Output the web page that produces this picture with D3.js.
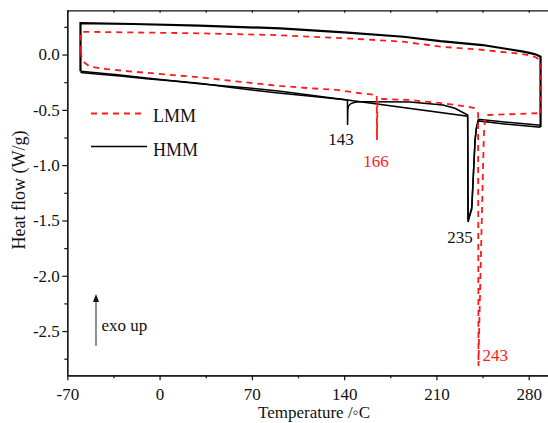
<!DOCTYPE html>
<html>
<head>
<meta charset="utf-8">
<script src="https://cdn.jsdelivr.net/npm/d3@7"></script>
<style>
  body { margin: 0; background: #fff; }
  svg, svg text { font-family: "Liberation Serif", "Times New Roman", "DejaVu Serif", serif !important; }
  svg { display: block; }
</style>
</head>
<body>
<svg id="chart" width="548" height="423"></svg>
<script>
// DSC curves, [temperature °C, heat flow W/g]
const hmmCooling = [
  [289, -0.655], [289, -0.02], [286, -0.002], [283, 0.008], [276, 0.026], [265, 0.048],
  [245, 0.086], [213, 0.122], [185, 0.161], [140, 0.2], [91.5, 0.237], [30, 0.261],
  [-20, 0.276], [-50, 0.282], [-60, 0.284], [-60, -0.15]
];
const hmmHeating1 = [
  [-60, -0.15], [-50, -0.163], [-30, -0.186], [-10, -0.211], [10, -0.236], [30, -0.26],
  [50, -0.292], [70, -0.32], [90, -0.347], [115, -0.377], [142.5, -0.41],
  [142.6, -0.637], [142.8, -0.5], [143.3, -0.466], [145.2, -0.443], [148.2, -0.432],
  [152, -0.426], [165, -0.426], [190, -0.428], [215, -0.456], [224, -0.486], [233.7, -0.547],
  [234.0, -1.515], [235.0, -1.47], [236.8, -1.40], [238.2, -1.05], [239.3, -0.773],
  [240.3, -0.66], [241.8, -0.586], [260, -0.607], [289, -0.64]
];
const hmmHeating2 = [
  [-60, -0.163], [-50, -0.173], [-30, -0.195], [-10, -0.218], [10, -0.24], [30, -0.263],
  [50, -0.284], [70, -0.305], [90, -0.33], [115, -0.367], [142.5, -0.412], [233.7, -0.558],
  [234.0, -1.5], [235.0, -1.46], [236.8, -1.38], [238.2, -1.04], [239.3, -0.78],
  [240.3, -0.67], [241.8, -0.6], [260, -0.625], [289, -0.658]
];
const lmmCooling = [
  [288.5, -0.53], [288.5, -0.049], [285, -0.022], [280, -0.005], [271, 0.011], [258, 0.026],
  [240, 0.048], [213, 0.071], [185, 0.116], [140, 0.148], [84, 0.177], [30.7, 0.192],
  [-20, 0.2], [-59.6, 0.206], [-59.6, 0.026]
];
const lmmHeating = [
  [-59.6, 0.026], [-59.2, -0.03], [-58, -0.06], [-56.6, -0.076], [-52.8, -0.11],
  [-40, -0.132], [-19.9, -0.155], [0, -0.175], [15.5, -0.191], [30.7, -0.206], [60, -0.245],
  [91.3, -0.284], [115, -0.305], [134.4, -0.32], [152, -0.35], [164.7, -0.365],
  [164.9, -0.773], [165.2, -0.46], [166, -0.402], [169.5, -0.402], [190, -0.411],
  [215, -0.441], [224.1, -0.456], [233.9, -0.472], [239.3, -0.486], [241.6, -0.53],
  [241.9, -2.816], [242.4, -2.5], [243.6, -1.9], [244.6, -1.4], [245.4, -1.0],
  [246.0, -0.72], [246.8, -0.6], [248.1, -0.547], [270, -0.538], [288.5, -0.53]
];

// peak annotations: [label, temperature, depth]
const hmmPeaks = [["143", 142.6, -0.637], ["235", 234.0, -1.515]];
const lmmPeaks = [["166", 164.9, -0.773], ["243", 241.9, -2.816]];

const xMajor = [-70, 0, 70, 140, 210, 280];
const xMinor = [-35, 35, 105, 175, 245];
const yMajor = [0, -0.5, -1.0, -1.5, -2.0, -2.5];
const yMinor = [0.25, -0.25, -0.75, -1.25, -1.75, -2.25, -2.75];

const svg = d3.select("#chart");
const plotLeft = 67.3, plotTop = 10.3, plotBottom = 375.3;

const x = d3.scaleLinear().domain([-70, 300]).range([plotLeft, plotLeft + 370 * 1.3183]);
const y = d3.scaleLinear().domain([-2.9, 0.4]).range([plotBottom, plotTop]);

const RED = "#ff1a1a";
const FONT = 17;

// axes
function styleAxis(g) {
  g.attr("font-family", null);
  g.selectAll("path, line").attr("stroke", "#111").attr("stroke-width", 1.2);
  g.selectAll("text").attr("font-size", FONT).attr("fill", "#111");
}

svg.append("g").attr("transform", `translate(0,${plotBottom})`)
  .call(d3.axisBottom(x).tickValues(xMajor).tickSize(5).tickSizeOuter(0).tickPadding(8)
    .tickFormat(d => String(d)))
  .call(styleAxis);
svg.append("g").attr("transform", `translate(0,${plotBottom})`)
  .call(d3.axisBottom(x).tickValues(xMinor).tickSize(3).tickSizeOuter(0).tickFormat(""))
  .call(styleAxis);
svg.append("g").attr("transform", `translate(0,${plotTop})`)
  .call(d3.axisTop(x).tickValues(xMajor.concat(xMinor)).tickSize(-2.5).tickSizeOuter(0).tickFormat(""))
  .call(styleAxis);

svg.append("g").attr("transform", `translate(${plotLeft},0)`)
  .call(d3.axisLeft(y).tickValues(yMajor).tickSize(5).tickSizeOuter(0).tickPadding(2.5)
    .tickFormat(d => d.toFixed(1)))
  .call(styleAxis);
svg.append("g").attr("transform", `translate(${plotLeft},0)`)
  .call(d3.axisLeft(y).tickValues(yMinor).tickSize(3).tickSizeOuter(0).tickFormat(""))
  .call(styleAxis);

// axis titles
svg.append("text")
  .attr("x", 314).attr("y", 418)
  .attr("text-anchor", "middle").attr("font-size", FONT).attr("fill", "#111")
  .text("Temperature /\u25E6C");
svg.append("text")
  .attr("transform", "translate(25,190) rotate(-90)")
  .attr("text-anchor", "middle").attr("font-size", 18).attr("fill", "#111")
  .text("Heat flow (W/g)");

// curves
const line = d3.line().x(d => x(d[0])).y(d => y(d[1]));

svg.append("path").datum(hmmCooling).attr("d", line)
  .attr("fill", "none").attr("stroke", "#000").attr("stroke-width", 2.2);
[hmmHeating2, hmmHeating1].forEach(s => {
  svg.append("path").datum(s).attr("d", line)
    .attr("fill", "none").attr("stroke", "#000").attr("stroke-width", 1.5);
});
[lmmCooling, lmmHeating].forEach(s => {
  svg.append("path").datum(s).attr("d", line)
    .attr("fill", "none").attr("stroke", RED).attr("stroke-width", 1.8)
    .attr("stroke-dasharray", "6,5");
});

// peak labels
const labelShift = {"143": [-6.5, 20, "middle"], "235": [-8, 21, "middle"],
                    "166": [-1, 26.5, "middle"], "243": [4, -5, "start"]};
hmmPeaks.concat(lmmPeaks).forEach(p => {
  const s = labelShift[p[0]];
  svg.append("text")
    .attr("x", x(p[1]) + s[0]).attr("y", y(p[2]) + s[1])
    .attr("text-anchor", s[2]).attr("font-size", FONT)
    .attr("fill", lmmPeaks.includes(p) ? RED : "#111")
    .text(p[0]);
});

// legend
const legend = svg.append("g");
legend.append("line").attr("x1", 91).attr("x2", 143).attr("y1", 113.5).attr("y2", 113.5)
  .attr("stroke", RED).attr("stroke-width", 1.8).attr("stroke-dasharray", "6,5");
legend.append("text").attr("x", 153).attr("y", 122).attr("font-size", 18).attr("fill", "#111").text("LMM");
legend.append("line").attr("x1", 91).attr("x2", 147).attr("y1", 146.5).attr("y2", 146.5)
  .attr("stroke", "#000").attr("stroke-width", 1.5);
legend.append("text").attr("x", 153).attr("y", 156).attr("font-size", 18).attr("fill", "#111").text("HMM");

// exo up arrow
svg.append("line").attr("x1", 96).attr("x2", 96).attr("y1", 346).attr("y2", 300)
  .attr("stroke", "#777").attr("stroke-width", 1.6);
svg.append("path").attr("d", "M96,294 L93,302 L99,302 Z").attr("fill", "#111");
svg.append("text").attr("x", 101.5).attr("y", 331).attr("font-size", FONT).attr("fill", "#111").text("exo up");
</script>
</body>
</html>
